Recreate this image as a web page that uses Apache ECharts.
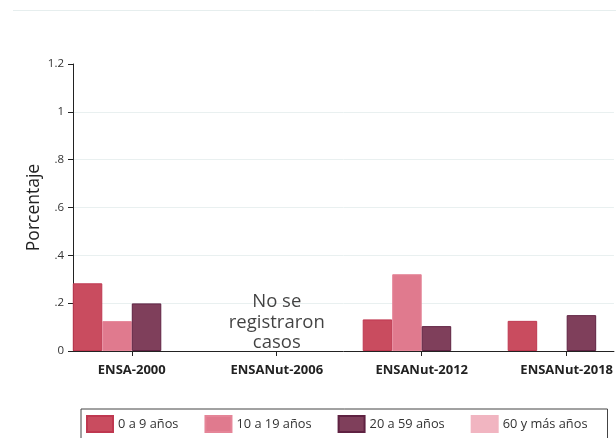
<!DOCTYPE html>
<html>
<head>
<meta charset="utf-8">
<script src="https://cdn.jsdelivr.net/npm/echarts@6/dist/echarts.min.js"></script>
<style>
  html, body { margin: 0; padding: 0; background: #fff; }
  #chart { width: 616px; height: 438px; }
</style>
</head>
<body>
<div id="chart"></div>
<script>
  // categorias (encuestas) y grupos de edad
  const categories = ['ENSA-2000', 'ENSANut-2006', 'ENSANut-2012', 'ENSANut-2018'];
  const seriesNames = ['0 a 9 años', '10 a 19 años', '20 a 59 años', '60 y más años'];
  // valores por grupo, '-' = sin casos
  const edad0a9 = [0.283, '-', 0.132, 0.126];
  const edad10a19 = [0.125, '-', 0.321, '-'];
  const edad20a59 = [0.199, '-', 0.104, 0.150];
  const edad60mas = ['-', '-', '-', '-'];
  const yTicks = [0, 0.2, 0.4, 0.6, 0.8, 1, 1.2];
  const yTickLabels = ['0', '.2', '.4', '.6', '.8', '1', '1.2'];
  const noCasesText = 'No se\nregistraron\ncasos';

  const colors = ['#c94c5f', '#e07a8e', '#7f3f5b', '#f1b5c1'];
  const borders = ['#bf3850', '#e58598', '#5f2242', '#f1b5c1'];
  const values = [edad0a9, edad10a19, edad20a59, edad60mas];

  const font = '"Open Sans", "Noto Sans", sans-serif';
  const myChart = echarts.init(document.getElementById('chart'));

  const barSeries = values.map((v, i) => ({
    name: seriesNames[i],
    type: 'bar',
    barWidth: 29.5,
    barGap: '0%',
    itemStyle: { color: colors[i], borderColor: borders[i], borderWidth: 1 },
    data: v.map((y, x) => [x, y])
  }));

  const option = {
    backgroundColor: '#fff',
    animation: false,
    color: colors,
    graphic: [{
      type: 'line',
      shape: { x1: 13, y1: 10.5, x2: 616, y2: 10.5 },
      style: { stroke: '#e6eeee', lineWidth: 1 }
    }],
    grid: { left: 73, right: 0, top: 64, bottom: 87 },
    legend: {
      data: seriesNames,
      left: 81,
      top: 409,
      padding: [6, 20, 12, 5],
      borderColor: '#444',
      borderWidth: 1,
      itemWidth: 26,
      itemHeight: 16,
      itemGap: 26,
      icon: 'rect',
      textStyle: { fontFamily: font, fontSize: 12.8, color: '#333' }
    },
    xAxis: {
      type: 'value',
      min: -0.4055,
      max: 3.326,
      splitLine: { show: false },
      axisLine: { show: true, onZero: false, lineStyle: { color: '#222', width: 1 } },
      axisTick: { show: true, customValues: [0, 1, 2, 3], length: 5, lineStyle: { color: '#222' } },
      axisLabel: {
        customValues: [0, 1, 2, 3],
        formatter: (v) => categories[Math.round(v)] || '',
        margin: 13,
        fontFamily: font,
        fontSize: 13,
        fontWeight: 'bold',
        color: '#222'
      }
    },
    yAxis: {
      type: 'value',
      min: 0,
      max: 1.2,
      interval: 0.2,
      name: 'Porcentaje',
      nameLocation: 'middle',
      nameGap: 30,
      nameMoveOverlap: false,
      nameTextStyle: { fontFamily: font, fontSize: 17.5, color: '#222' },
      axisLine: { show: true, onZero: false, lineStyle: { color: '#222', width: 1 } },
      axisTick: { show: true, length: 5, lineStyle: { color: '#222' } },
      axisLabel: {
        margin: 9,
        fontFamily: font,
        fontSize: 11.5,
        color: '#333',
        formatter: (v) => {
          const k = yTicks.findIndex(t => Math.abs(t - v) < 1e-6);
          return k >= 0 ? yTickLabels[k] : '';
        }
      },
      splitLine: {
        show: true,
        lineStyle: {
          color: ['#e9f0f0', '#e9f0f0', '#e9f0f0', '#e9f0f0', '#e9f0f0', '#e9f0f0', 'rgba(0,0,0,0)'],
          width: 1
        }
      }
    },
    series: barSeries.concat([{
      type: 'scatter',
      symbolSize: 0,
      silent: true,
      data: [[1, 0.12]],
      label: {
        show: true,
        position: 'inside',
        formatter: noCasesText,
        fontFamily: font,
        fontSize: 18.5,
        lineHeight: 20.5,
        color: '#111',
        align: 'center'
      }
    }])
  };
  myChart.setOption(option);
</script>
</body>
</html>
